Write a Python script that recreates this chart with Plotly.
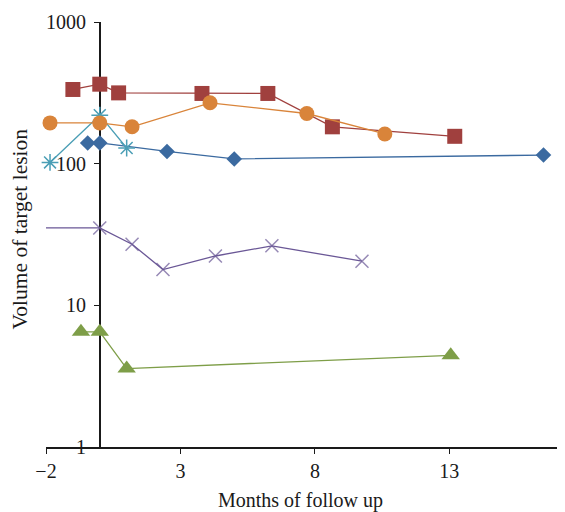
import plotly.graph_objects as go

# Data (months of follow up, volume of target lesion)
blue_x = [-0.45, 0.0, 2.5, 5.0, 16.5]
blue_y = [140, 140, 122, 108, 115]

red_x = [-1.0, 0.0, 0.7, 3.8, 6.25, 8.65, 13.2]
red_y = [334, 364, 316, 313, 313, 182, 156]

green_x = [-0.7, 0.0, 1.0, 13.05]
green_y = [6.5, 6.5, 3.58, 4.44]

purple_x = [-2.2, 0.0, 1.2, 2.35, 4.3, 6.4, 9.75]
purple_y = [35.2, 35.2, 27.0, 17.9, 22.3, 26.3, 20.5]

teal_x = [-1.85, 0.0, 1.0]
teal_y = [102, 220, 129]

orange_x = [-1.85, 0.0, 1.2, 4.1, 7.7, 10.6]
orange_y = [194, 194, 182, 269, 226, 162]

x_ticks = [-2, 3, 8, 13]
y_ticks = [1, 10, 100, 1000]
y_tick_labels = ["1", "10", "100", "1000"]

X_MIN, X_MAX = -2, 17.3

fig = go.Figure()

def add(x, y, color, symbol, size, line_w=1.3, mline=0, sizes=None):
    fig.add_trace(go.Scatter(
        x=x, y=y, mode="lines+markers",
        line=dict(color=color, width=line_w),
        marker=dict(symbol=symbol, size=sizes if sizes else size, color=color,
                    line=dict(color=color, width=mline)),
        cliponaxis=False, showlegend=False,
    ))

add(blue_x, blue_y, "#3B6AA0", "diamond", 12)
add(red_x, red_y, "#A0403E", "square", 15)
add(green_x, green_y, "#7E9E48", "triangle-up", 16)
add(purple_x, purple_y, "#6A5796", "x-thin-open", 13, mline=1.5,
    sizes=[0] + [13] * (len(purple_x) - 1))
add(teal_x, teal_y, "#4A9EB5", "asterisk-open", 14, mline=1.5)
add(orange_x, orange_y, "#D9843A", "circle", 15)

# page has an 8px body margin, so margins are offset accordingly
ML, MR, MT, MB = 38, 8, 14, 73
W, H = 565, 512
plot_w = W - ML - MR
plot_h = H - MT - MB
fig.update_layout(
    width=W, height=H,
    margin=dict(l=ML, r=MR, t=MT, b=MB),
    paper_bgcolor="white", plot_bgcolor="white",
    font=dict(family="Liberation Serif", size=20, color="#1a1a1a"),
    xaxis=dict(
        range=[X_MIN, X_MAX], tickvals=x_ticks,
        ticktext=["\u22122" if v < 0 else str(v) for v in x_ticks],
        showgrid=False, zeroline=False, showline=True, linecolor="#1a1a1a",
        linewidth=1.5, ticks="outside", ticklen=5, tickcolor="#1a1a1a",
        layer="below traces", automargin=False,
    ),
    yaxis=dict(
        type="log", range=[0, 3], tickvals=y_ticks, ticktext=y_tick_labels,
        anchor="free", position=(0 - X_MIN) / (X_MAX - X_MIN),
        showgrid=False, zeroline=False, showline=True, linecolor="#1a1a1a",
        linewidth=1.5, ticks="outside", ticklen=5, tickcolor="#1a1a1a",
        ticklabelstandoff=4,
        layer="below traces", automargin=False,
    ),
    annotations=[
        dict(
            text="Volume of target lesion", textangle=-90,
            xref="paper", yref="paper", x=(12 - ML) / plot_w, y=0.512,
            xanchor="center", yanchor="middle", showarrow=False,
            font=dict(family="Liberation Serif", size=21.5, color="#1a1a1a"),
        ),
        dict(
            text="Months of follow up",
            xref="paper", yref="paper", x=(292 - ML) / plot_w,
            y=((H - MB) - 492) / plot_h,
            xanchor="center", yanchor="middle", showarrow=False,
            font=dict(family="Liberation Serif", size=20, color="#1a1a1a"),
        ),
    ],
)

fig.write_html("out.html")
